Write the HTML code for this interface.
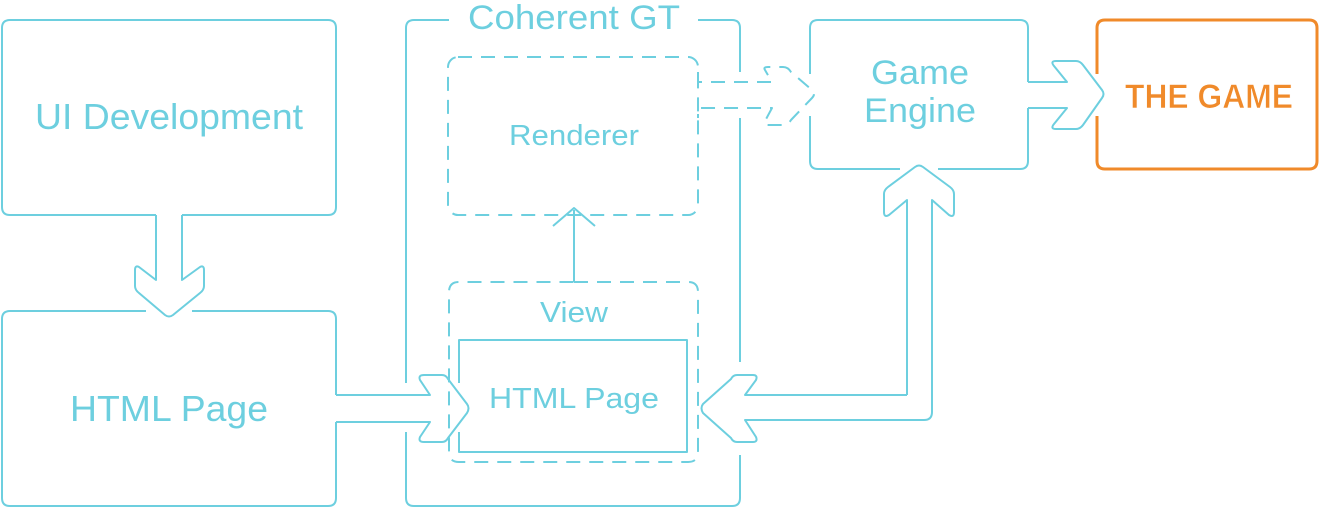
<!DOCTYPE html>
<html><head><meta charset="utf-8"><style>
html,body{margin:0;padding:0;background:#fff;width:1320px;height:510px;overflow:hidden}
svg{display:block}
text{font-family:"Liberation Sans",sans-serif;fill:#6dcfdf}
</style></head><body>
<svg width="1320" height="510" viewBox="0 0 1320 510" xmlns="http://www.w3.org/2000/svg">
<g fill="none" stroke="#6dcfdf" stroke-width="2" stroke-linejoin="round">
<path d="M156 215 H10 Q2 215 2 207 V28 Q2 20 10 20 H328 Q336 20 336 28 V207 Q336 215 328 215 H182"/>
<path d="M156 215 V280 L139 267 Q135 265 135 270 V286 Q135 290 139 293 L165 315 Q169 318 173 315 L200 293 Q204 290 204 286 V270 Q204 265 200 267 L182 280 V215"/>
<path d="M146 311 H10 Q2 311 2 319 V498 Q2 506 10 506 H328 Q336 506 336 498 V422 M336 395 V319 Q336 311 328 311 H192"/>
<path d="M336 395 H430 L420 380 Q418 375 424 375 H442 Q446 375 448 379 L467 404 Q470 408 467 413 L448 438 Q446 442 442 442 H424 Q418 442 420 437 L430 422 H336"/>
<path d="M449 20 H414 Q406 20 406 28 V383 M406 432 V498 Q406 506 414 506 H732 Q740 506 740 498 V455 M740 362 V118 M740 72 V28 Q740 20 732 20 H698"/>
<path d="M459 383 V340 H687 V452 H459 V432"/>
<path d="M574 282 V210 M553 226 L574 208 L595 226"/>
<path d="M900 169 H818 Q810 169 810 161 V116 M810 74 V28 Q810 20 818 20 H1020 Q1028 20 1028 28 V82 M1028 108 V161 Q1028 169 1020 169 H938"/>
<path d="M1028 82 H1067 L1054 66 Q1050 61 1056 61 H1076 Q1080 61 1083 65 L1102 90 Q1105 94 1102 98 L1083 125 Q1080 129 1076 129 H1056 Q1050 129 1054 124 L1067 108 H1028"/>
<path d="M907 395 V200 L889 215 Q884 218 884 212 V194 Q884 190 888 187 L915 167 Q919 164 923 167 L950 187 Q954 190 954 194 V212 Q954 218 949 215 L932 200 V412 Q932 420 924 420 H745 L756 437 Q758 442 753 442 H737 Q733 442 731 438 L703 413 Q700 408 703 404 L731 379 Q733 375 737 375 H753 Q758 375 756 380 L745 395 H907"/>
</g>
<g fill="none" stroke="#6dcfdf" stroke-width="2" stroke-dasharray="14 9" stroke-linejoin="round">
<rect x="448" y="57" width="250" height="158" rx="10"/>
<path d="M698 72 V82 H772 L765 70 Q763 67 768 67 H783 Q788 67 791 72 L812 90 Q816 94 812 98 L791 120 Q788 125 783 125 H768 Q763 125 765 121 L772 108 H698 V118"/>
<path d="M574 282 H688 Q698 282 698 292 V452 Q698 462 688 462 H459 Q449 462 449 452 V292 Q449 282 459 282 H574"/>
</g>
<path d="M1097 74 V28 Q1097 20 1105 20 H1309 Q1317 20 1317 28 V161 Q1317 169 1309 169 H1105 Q1097 169 1097 161 V116" fill="none" stroke="#f08a2a" stroke-width="3"/>
<text x="169" y="129" font-size="36" text-anchor="middle" textLength="268" lengthAdjust="spacingAndGlyphs">UI Development</text>
<text x="169" y="421" font-size="36" text-anchor="middle" textLength="198" lengthAdjust="spacingAndGlyphs">HTML Page</text>
<text x="574" y="29" font-size="34" text-anchor="middle" textLength="212" lengthAdjust="spacingAndGlyphs">Coherent GT</text>
<text x="574" y="145" font-size="29" text-anchor="middle" textLength="130" lengthAdjust="spacingAndGlyphs">Renderer</text>
<text x="574" y="322" font-size="29" text-anchor="middle" textLength="68" lengthAdjust="spacingAndGlyphs">View</text>
<text x="574" y="408" font-size="29" text-anchor="middle" textLength="170" lengthAdjust="spacingAndGlyphs">HTML Page</text>
<text x="920" y="84" font-size="34" text-anchor="middle" textLength="98" lengthAdjust="spacingAndGlyphs">Game</text>
<text x="920" y="122" font-size="34" text-anchor="middle" textLength="112" lengthAdjust="spacingAndGlyphs">Engine</text>
<text x="1209" y="108" font-size="34" font-weight="bold" text-anchor="middle" textLength="168" lengthAdjust="spacingAndGlyphs" style="fill:#f08a2a;stroke:#fff;stroke-width:0.6">THE GAME</text>
</svg>
</body></html>
